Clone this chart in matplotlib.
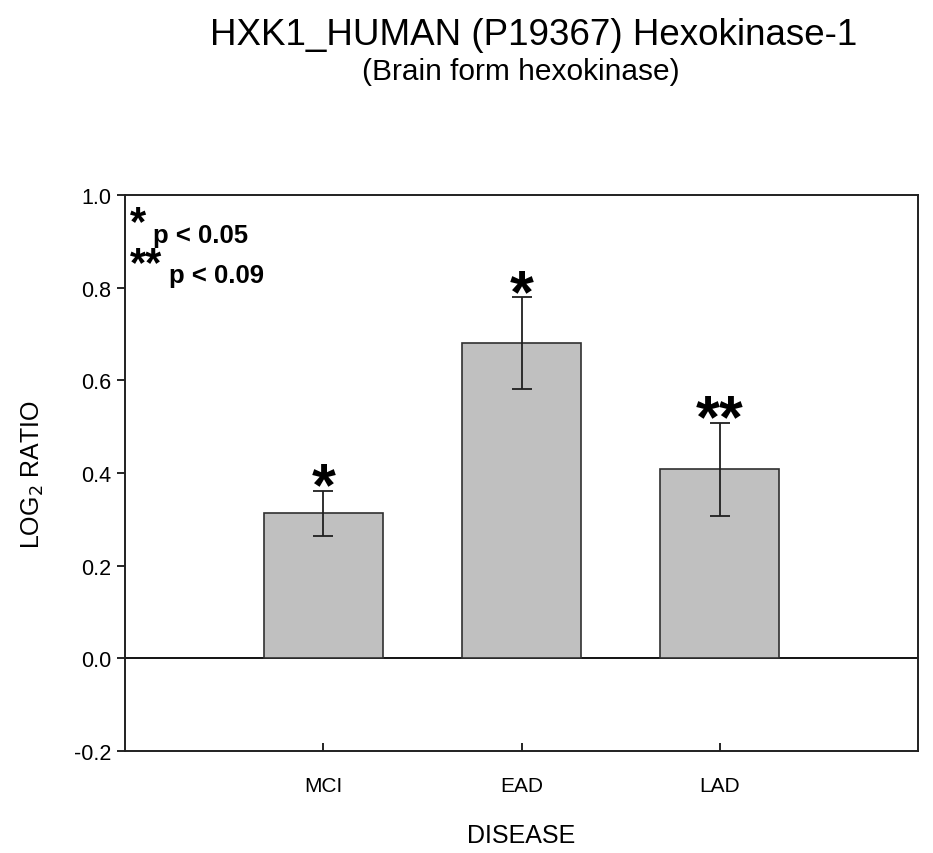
#!/usr/bin/env python3

import matplotlib
matplotlib.use("Agg")
import matplotlib.pyplot as plt

plt.rcParams['font.family'] = ['Liberation Sans', 'DejaVu Sans']

# data
groups = ['MCI', 'EAD', 'LAD']
log2_ratio = [0.313, 0.680, 0.408]
sem = [0.048, 0.099, 0.100]
marks = ['*', '*', '**']

fig = plt.figure(figsize=(9.33, 8.54), dpi=100)
ax = fig.add_axes([0.134, 0.1194, 0.850, 0.6511])

pos = [1, 2, 3]
ax.bar(pos, log2_ratio, width=0.6, color='#c0c0c0', edgecolor='#303030', linewidth=1.2, zorder=2)
ax.errorbar(pos, log2_ratio, yerr=sem, fmt='none', ecolor='#202020', elinewidth=1.3,
            capsize=7, capthick=1.3, zorder=3)
ax.axhline(0, color='black', linewidth=1.3, zorder=1)

for x, v, e, m in zip(pos, log2_ratio, sem, marks):
    ax.annotate(m, (x, v + e), xytext=(0, -19), textcoords='offset points',
                ha='center', va='bottom', fontsize=44, fontweight='bold')

ax.set_xlim(0, 4)
ax.set_ylim(-0.2, 1.0)
ax.set_xticks(pos)
ax.set_xticklabels(groups, fontsize=15)
ax.set_yticks([-0.2, 0.0, 0.2, 0.4, 0.6, 0.8, 1.0])
ax.set_yticklabels(['-0.2', '0.0', '0.2', '0.4', '0.6', '0.8', '1.0'], fontsize=15.5)
ax.tick_params(axis='x', direction='in', length=6, width=1.2, pad=18)
ax.tick_params(axis='y', direction='out', length=6, width=1.2, pad=4)
for s in ax.spines.values():
    s.set_linewidth(1.4)
    s.set_color('#202020')

ax.set_xlabel('DISEASE', fontsize=18, labelpad=20)
ax.set_ylabel('LOG$_2$ RATIO', fontsize=18, labelpad=20)

# significance key
ax.text(0.006, 0.985, '*', transform=ax.transAxes, fontsize=30, fontweight='bold', va='top')
ax.text(0.035, 0.950, 'p < 0.05', transform=ax.transAxes, fontsize=18.5, fontweight='bold', va='top')
ax.text(0.006, 0.912, '**', transform=ax.transAxes, fontsize=30, fontweight='bold', va='top')
ax.text(0.056, 0.878, 'p < 0.09', transform=ax.transAxes, fontsize=18.5, fontweight='bold', va='top')

fig.text(0.572, 0.958, 'HXK1_HUMAN (P19367) Hexokinase-1', ha='center', va='center', fontsize=26.5)
fig.text(0.558, 0.916, '(Brain form hexokinase)', ha='center', va='center', fontsize=21.5)

fig.savefig('out.png', dpi=100)
